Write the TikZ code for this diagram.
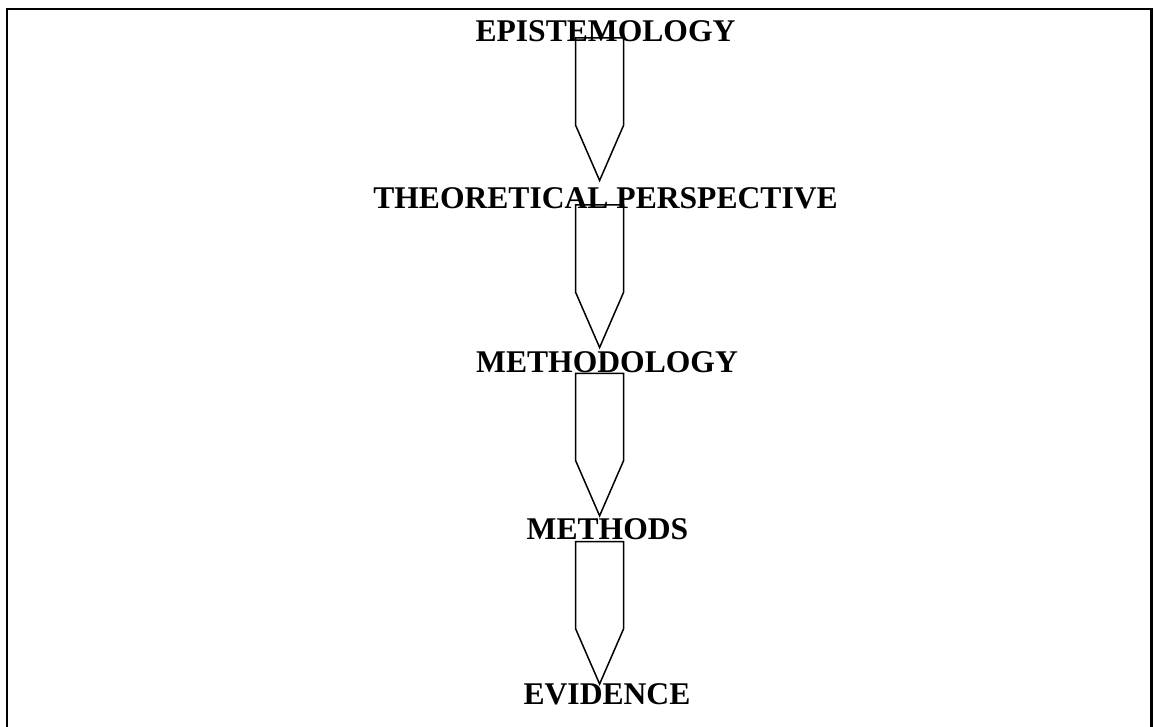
\documentclass[tikz,border=0pt]{standalone}
\usepackage{fontspec}
\setmainfont{Liberation Serif}
\usetikzlibrary{calc}
\begin{document}
\begin{tikzpicture}[x=1pt,y=-1pt,
  label/.style={font=\bfseries\fontsize{31.6}{36}\selectfont, inner sep=0pt, anchor=base},
  arrowbox/.style={draw=black, line width=1.5pt, line join=miter}]
\useasboundingbox (0,0) rectangle (1154,727);
\draw[line width=2.4pt] (7,727) -- (7,9) -- (1151.5,9) -- (1151.5,727);
\node[label] (epi) at (605.5,41.7) {EPISTEMOLOGY};
\node[label] (theo) at (605.5,208.3) {THEORETICAL PERSPECTIVE};
\node[label] (meth) at (607,372.7) {METHODOLOGY};
\node[label] (mets) at (607.5,539) {METHODS};
\node[label] (evid) at (607,704.3) {EVIDENCE};
\foreach \t/\n in {38/a1,205/a2,373.3/a3,541.5/a4}{
  \coordinate (\n) at (599.6,\t);
  \draw[arrowbox] ($(\n)+(-23.9,0)$) -- ($(\n)+(23.9,0)$) -- ($(\n)+(23.9,87.5)$)
     -- ($(\n)+(0,142.5)$) -- ($(\n)+(-23.9,87.5)$) -- cycle;
}
\end{tikzpicture}
\end{document}
